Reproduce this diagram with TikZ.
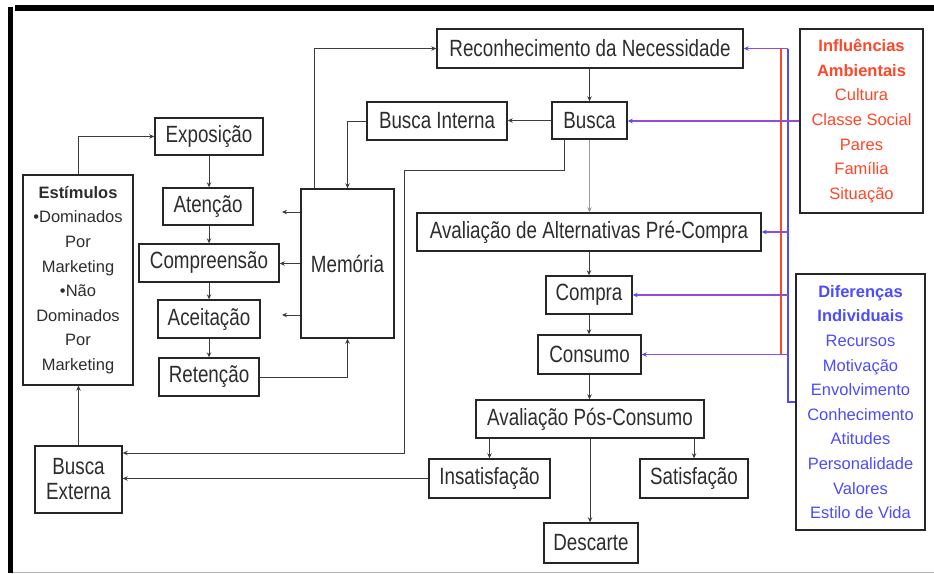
\documentclass[tikz,border=0pt]{standalone}
\usepackage{fontspec}
\setmainfont{Liberation Sans}
\newfontfamily\condsans{Liberation Sans}[FakeStretch=0.8]
\usetikzlibrary{arrows.meta}

\definecolor{inkgray}{RGB}{45,45,45}
\definecolor{linegray}{RGB}{60,60,60}
\definecolor{envred}{RGB}{255,70,40}
\definecolor{indblue}{RGB}{75,75,255}
\definecolor{mixline}{RGB}{150,75,215}

\begin{document}
\begin{tikzpicture}[x=1pt,y=-1pt,
  box/.style={draw=black!85, line width=1.4pt, inner sep=0pt, text=inkgray,
              font=\condsans\fontsize{23.5}{25}\selectfont, align=center},
  sidebox/.style={box, font=\rmfamily\fontsize{16.5}{24.6}\selectfont},
  conn/.style={draw=linegray, line width=0.8pt, -{Stealth[length=5pt,width=4.5pt]}},
  softconn/.style={conn, draw=gray!80},
  redwire/.style={draw=envred, line width=1.6pt},
  bluewire/.style={draw=indblue, line width=1.6pt},
  sidearrow/.style={draw=mixline, line width=1.1pt, -{Stealth[length=5pt,width=4.5pt,color=indblue]}}
]
\useasboundingbox (0,0) rectangle (934,573);

% page frame
\fill[black] (15,5) rectangle (934,11);
\fill[black] (8,7) rectangle (13,573);
\draw[gray!60, line width=1pt] (13,572) -- (934,572);

% decision process
\node[box, minimum width=306pt, minimum height=39pt] (rec) at (590,48.5) {Reconhecimento da Necessidade};
\node[box, minimum width=75pt, minimum height=37pt] (busca) at (589.5,120.5) {Busca};
\node[box, minimum width=140pt, minimum height=38pt] (bint) at (437,121) {Busca Interna};
\node[box, minimum width=93pt, minimum height=149pt] (mem) at (347.5,263.5) {Memória};
\node[box, minimum width=344pt, minimum height=38pt] (aalt) at (589,232) {Avaliação de Alternativas Pré-Compra};
\node[box, minimum width=86pt, minimum height=38pt] (compra) at (589,295) {Compra};
\node[box, minimum width=103pt, minimum height=39pt] (cons) at (589.5,354.5) {Consumo};
\node[box, minimum width=228pt, minimum height=38pt] (apos) at (590,419) {Avaliação Pós-Consumo};
\node[box, minimum width=121pt, minimum height=39pt] (insat) at (489.5,478.5) {Insatisfação};
\node[box, minimum width=108pt, minimum height=39pt] (sat) at (694,478.5) {Satisfação};
\node[box, minimum width=94pt, minimum height=40pt] (desc) at (591,543) {Descarte};

% information processing
\node[box, minimum width=108pt, minimum height=37pt] (expo) at (209,136.5) {Exposição};
\node[box, minimum width=90pt, minimum height=37pt] (aten) at (208,206.5) {Atenção};
\node[box, minimum width=140pt, minimum height=38pt] (comp) at (209,263) {Compreensão};
\node[box, minimum width=102pt, minimum height=38pt] (acei) at (209,319) {Aceitação};
\node[box, minimum width=100pt, minimum height=38pt] (ret) at (209,377) {Retenção};
\node[sidebox, minimum width=110pt, minimum height=210pt] (est) at (78,280)
  {{\bfseries Estímulos}\\•Dominados\\Por\\Marketing\\•Não\\Dominados\\Por\\Marketing};
\node[box, minimum width=87pt, minimum height=67pt] (bext) at (78.5,479.5) {Busca\\Externa};

% influences
\node[sidebox, text=envred, minimum width=123pt, minimum height=184pt] (infl) at (861.5,121)
  {{\bfseries Influências}\\{\bfseries Ambientais}\\Cultura\\Classe Social\\Pares\\Família\\Situação};
\node[sidebox, text=indblue, minimum width=129pt, minimum height=256pt] (dif) at (860.5,402)
  {{\bfseries Diferenças}\\{\bfseries Individuais}\\Recursos\\Motivação\\Envolvimento\\Conhecimento\\Atitudes\\Personalidade\\Valores\\Estilo de Vida};

% main flow
\draw[conn] (rec.south -| busca.north) -- (busca.north);
\draw[conn] (busca.west) -- (busca.west -| bint.east);
\draw[conn] (bint.west) -| (mem.north);
\draw[conn] ([xshift=14pt]mem.north west) |- (rec.west);
\draw[softconn] (busca.south) -- (busca.south |- aalt.north);
\draw[conn] (aalt.south) -- (aalt.south |- compra.north);
\draw[conn] (compra.south) -- (compra.south |- cons.north);
\draw[conn] (cons.south) -- (cons.south |- apos.north);
\draw[conn] (apos.south -| insat.north) -- (insat.north);
\draw[conn] (apos.south -| sat.north) -- (sat.north);
\draw[conn] (apos.south) -- (apos.south |- desc.north);

% external search paths
\coordinate (turn) at (404,170);
\draw[conn] ([xshift=-25.5pt]busca.south) |- (turn) |- ([yshift=26.5pt]bext.east);
\draw[conn] (insat.west) -- (insat.west -| bext.east);
\draw[conn] (bext.north) -- (bext.north |- est.south);
\draw[conn] (est.north) |- (expo.west);

% processing chain
\draw[conn] (expo.south) -- (expo.south |- aten.north);
\draw[conn] (aten.south -| expo.south) -- (expo.south |- comp.north);
\draw[conn] (comp.south) -- (comp.south |- acei.north);
\draw[conn] (acei.south) -- (acei.south |- ret.north);

% memory links
\coordinate (memA) at (282,212);
\coordinate (memC) at (282,315);
\draw[conn] (mem.west |- memA) -- (memA);
\draw[conn] (mem.west) -- (mem.west -| comp.east);
\draw[conn] (mem.west |- memC) -- (memC);
\draw[conn] (ret.east) -| (mem.south);

% influence buses
\coordinate (rb) at (781,0);
\coordinate (bb) at (788,0);
\draw[redwire] (rec.east -| rb) -- (cons.east -| rb);
\draw[bluewire] (rec.east -| bb) -- (cons.east -| bb);
\draw[draw=indblue, line width=2.2pt] (cons.east -| bb) -- (dif.west -| bb) -- (dif.west);
\draw[sidearrow] (infl.west) -- (infl.west -| busca.east);
\draw[sidearrow] (rec.east -| bb) -- (rec.east);
\draw[sidearrow] (aalt.east -| bb) -- (aalt.east);
\draw[sidearrow] (compra.east -| bb) -- (compra.east);
\draw[sidearrow] (cons.east -| bb) -- (cons.east);
\end{tikzpicture}
\end{document}
